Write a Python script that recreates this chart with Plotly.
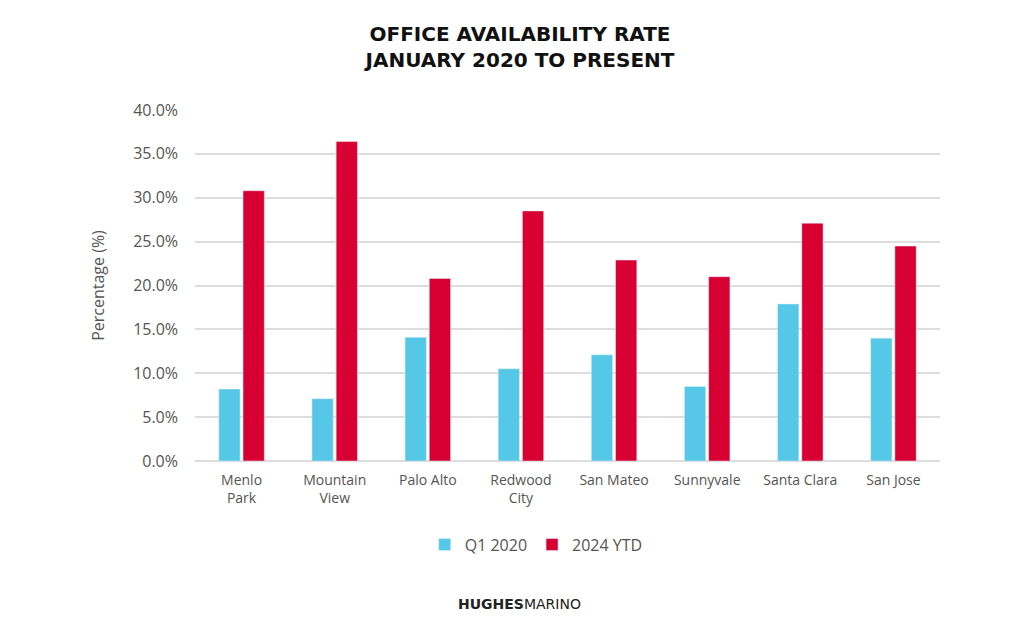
import plotly.graph_objects as go

categories = ["Menlo<br>Park", "Mountain<br>View", "Palo Alto", "Redwood<br>City",
              "San Mateo", "Sunnyvale", "Santa Clara", "San Jose"]
q1_2020 = [8.2, 7.1, 14.1, 10.5, 12.1, 8.5, 17.9, 14.0]
ytd_2024 = [30.8, 36.4, 20.8, 28.5, 22.9, 21.0, 27.1, 24.5]
tick_vals = [0, 5, 10, 15, 20, 25, 30, 35, 40]
tick_text = [f"{v:.1f}%" for v in tick_vals]

CYAN = "#55C8E8"
RED = "#D80032"
GRAY = "#555555"
FONT = "Open Sans"

fig = go.Figure()
fig.add_trace(go.Bar(name="Q1 2020", x=categories, y=q1_2020, marker_color=CYAN))
fig.add_trace(go.Bar(name="2024 YTD", x=categories, y=ytd_2024, marker_color=RED))

fig.update_layout(
    width=1024, height=634,
    paper_bgcolor="white", plot_bgcolor="white",
    margin=dict(l=187, r=92, t=102, b=181),
    barmode="group", bargap=0.48, bargroupgap=0.12,
    font=dict(family=FONT, color=GRAY, size=14),
    title=dict(
        text="<b>OFFICE AVAILABILITY RATE<br>JANUARY 2020 TO PRESENT</b>",
        x=0.5, xanchor="center", y=0.948, yanchor="top",
        font=dict(family="DejaVu Sans", size=20, color="#111111"),
    ),
    legend=dict(orientation="h", x=0.458, xanchor="center", y=-0.19, yanchor="top",
                font=dict(size=16, color=GRAY), itemwidth=30, traceorder="normal"),
    xaxis=dict(showgrid=False, showline=False, ticks="", ticklabelstandoff=9,
               tickfont=dict(size=14, color=GRAY)),
    yaxis=dict(range=[0, 40], tickvals=tick_vals, ticktext=tick_text,
               showgrid=True, gridcolor="#dddddd", gridwidth=1.5,
               zeroline=True, zerolinecolor="#dddddd", zerolinewidth=1.5,
               tickfont=dict(size=16, color=GRAY), ticks="", ticklabelstandoff=16,
               title=dict(text="Percentage (%)", font=dict(size=16, color=GRAY), standoff=24)),
)

fig.add_annotation(
    text="<b>HUGHES</b>MARINO", xref="paper", yref="paper",
    x=0.436, xanchor="center", y=-0.407, yanchor="middle", showarrow=False,
    font=dict(family="DejaVu Sans", size=14, color="#222222"),
)

fig.write_html("out.html")
